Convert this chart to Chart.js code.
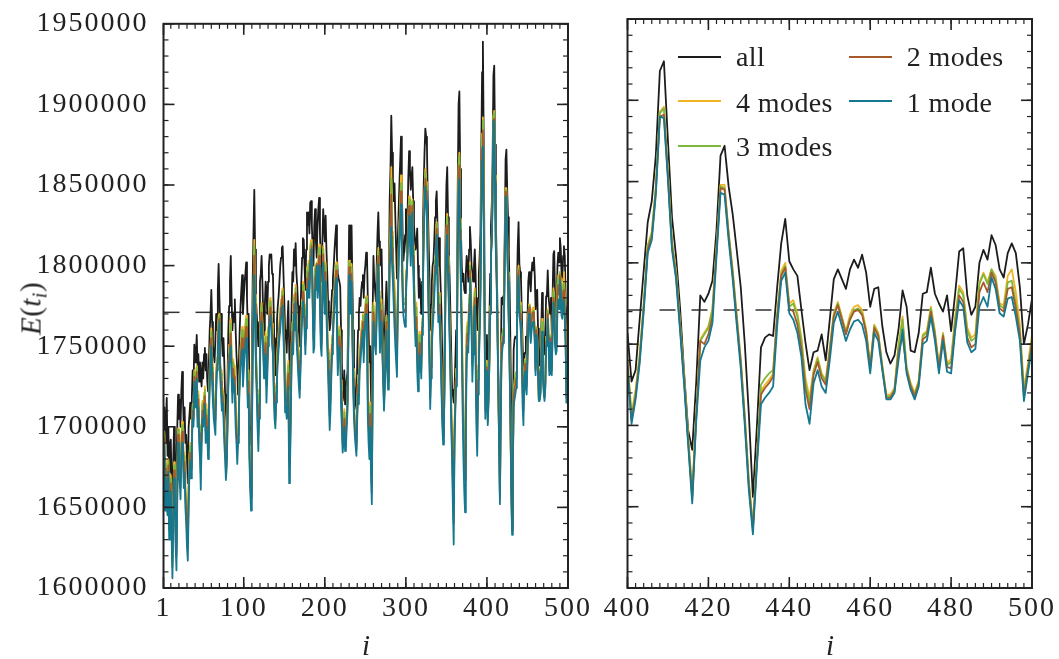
<!DOCTYPE html>
<html><head><meta charset="utf-8">
<script src="https://cdn.jsdelivr.net/npm/chart.js@4.4.1/dist/chart.umd.min.js"></script>
<style>
html,body{margin:0;padding:0;background:#fff;}
#wrap{position:relative;width:1059px;height:659px;overflow:hidden;font-family:'Liberation Serif','Times New Roman',serif;color:#222;}
canvas{position:absolute;left:0;top:0;}
.lg{position:absolute;font-size:28px;line-height:31px;height:31px;white-space:nowrap;letter-spacing:0.4px;}
.sw{position:absolute;width:43px;height:0;border-top:2px solid;}
.xt{position:absolute;font-size:29px;font-style:italic;width:60px;text-align:center;line-height:34px;}
#yt{position:absolute;left:-65px;top:287px;font-size:29px;width:200px;text-align:center;line-height:34px;transform:rotate(-90deg);white-space:nowrap;letter-spacing:0.5px;}
</style></head><body>
<div id="wrap">
<canvas id="cLeft" width="1059" height="659"></canvas>
<canvas id="cRight" width="1059" height="659"></canvas>
<div id="yt"><i>E</i>(<i>t</i><sub style="font-size:20px;vertical-align:-6px;"><i>i</i></sub>)</div>
<div class="xt" style="left:336px;top:628px;">i</div>
<div class="xt" style="left:800px;top:628px;">i</div>
<div id="legend"></div>
</div>
<script>
// ---------------- data (energy, in thousands) ----------------
const firstIndex = 1;
const energyAll = [
1700,1712,1690,1705,1718,1682,1700,1672,1688,1692,1665,1650,1678,1700,1690,1660,1668,1700,1720,1705,
1717,1700,1722,1734,1718,1700,1712,1690,1695,1680,1665,1700,1707,1715,1705,1719,1735,1725,1751,1740,
1745,1757,1738,1745,1728,1740,1732,1725,1740,1730,1745,1749,1735,1745,1728,1722,1740,1760,1770,1785,
1765,1750,1745,1740,1755,1770,1760,1785,1801,1780,1760,1770,1755,1744,1755,1740,1720,1710,1699,1730,
1760,1775,1790,1806,1780,1760,1770,1765,1779,1760,1745,1735,1720,1740,1760,1775,1785,1794,1770,1780,
1790,1795,1802,1780,1760,1770,1720,1689,1700,1740,1790,1820,1847,1810,1780,1770,1760,1750,1765,1790,
1795,1806,1790,1770,1757,1775,1790,1785,1770,1790,1800,1807,1805,1807,1795,1794,1770,1745,1732,1755,
1766,1775,1781,1790,1800,1805,1811,1812,1795,1778,1760,1755,1746,1765,1778,1750,1723,1750,1775,1796,
1790,1810,1800,1814,1795,1787,1775,1760,1750,1770,1790,1805,1817,1816,1800,1785,1810,1833,1825,1833,
1820,1839,1840,1825,1810,1800,1825,1835,1815,1805,1825,1835,1842,1820,1800,1790,1815,1835,1825,1815,
1831,1810,1795,1778,1770,1760,1764,1775,1785,1792,1800,1810,1818,1825,1805,1795,1792,1790,1787,1760,
1740,1716,1720,1735,1714,1725,1730,1734,1780,1825,1810,1800,1825,1790,1760,1739,1725,1715,1711,1740,
1760,1770,1780,1775,1785,1790,1794,1780,1795,1800,1808,1807,1780,1760,1740,1750,1720,1700,1770,1806,
1790,1785,1778,1800,1820,1833,1815,1800,1805,1810,1780,1755,1739,1760,1775,1790,1775,1757,1790,1840,
1860,1893,1870,1854,1840,1851,1830,1810,1792,1815,1833,1850,1865,1880,1850,1820,1803,1810,1819,1835,
1808,1830,1855,1871,1860,1847,1855,1861,1840,1825,1817,1810,1815,1823,1800,1780,1792,1785,1770,1790,
1820,1850,1870,1885,1880,1874,1840,1817,1795,1760,1776,1790,1800,1803,1815,1830,1840,1846,1825,1800,
1817,1800,1785,1769,1740,1720,1711,1760,1820,1850,1861,1830,1810,1792,1770,1745,1723,1720,1715,1724,
1740,1760,1787,1850,1900,1908,1860,1820,1799,1790,1795,1785,1783,1795,1806,1800,1790,1810,1824,1815,
1800,1796,1790,1800,1810,1795,1770,1760,1780,1795,1806,1820,1870,1920,1939,1880,1800,1739,1745,
1757,1727,1734,1765,1795,1825,1838,1866,1918,1924,1875,1828,1804,1772,1732,1697,1685,1727,1780,1776,1781,1789,1820,1866,1872,1847,
1830,1808,1785,1750,1707,1656,1700,1748,1754,1756,1755,1785,1812,1827,1801,1796,1792,1771,1751,1734,1745,1746,1756,1740,1765,
1790,1796,1790,1784,1796,1802,1797,1805,1794,1773,1784,1785,1761,1745,1738,1743,1759,1783,1773,1746,1745,1757,1781,1782,1797,
1781,1775,1770,1780,1758,1781,1807,1809,1780,1768,1773,1800,1808,1802,1817,1811,1796,1791,1806,1812,1806,1785,1750,1762,1778];
const energy4 = [
1686,1697,1661,1679,1670,1656,1680,1643,1665,1670,1642,1619,1651,1678,1670,1636,1628,1669,1699,1679,
1681,1669,1693,1703,1698,1673,1684,1662,1657,1642,1631,1665,1683,1690,1679,1699,1714,1708,1735,1720,
1726,1738,1711,1722,1701,1698,1682,1701,1716,1709,1721,1725,1704,1714,1705,1693,1716,1736,1749,1761,
1739,1726,1717,1712,1713,1735,1743,1761,1769,1770,1739,1735,1724,1724,1720,1705,1692,1680,1682,1709,
1736,1751,1759,1767,1745,1729,1742,1737,1738,1718,1707,1694,1699,1719,1736,1749,1755,1762,1739,1749,
1759,1764,1769,1749,1726,1735,1692,1669,1664,1705,1755,1785,1816,1782,1749,1735,1718,1705,1723,1755,
1771,1777,1766,1755,1738,1751,1759,1736,1742,1762,1772,1778,1780,1774,1764,1760,1735,1717,1709,1727,
1741,1751,1758,1766,1772,1779,1784,1786,1767,1751,1724,1725,1717,1734,1741,1691,1687,1719,1751,1765,
1759,1782,1772,1788,1767,1758,1747,1736,1728,1746,1766,1779,1790,1787,1772,1757,1776,1799,1794,1803,
1792,1812,1816,1815,1786,1762,1772,1800,1798,1802,1794,1804,1813,1789,1765,1758,1787,1812,1797,1784,
1802,1782,1764,1748,1732,1717,1726,1744,1757,1766,1776,1786,1795,1802,1774,1751,1759,1762,1758,1729,
1712,1694,1699,1711,1694,1698,1709,1717,1759,1803,1786,1779,1801,1766,1736,1715,1704,1696,1691,1716,
1732,1731,1749,1751,1759,1766,1770,1752,1767,1776,1781,1778,1729,1711,1698,1715,1685,1666,1735,1777,
1766,1761,1755,1779,1799,1811,1784,1762,1774,1779,1756,1736,1719,1734,1754,1769,1747,1733,1769,1812,
1822,1861,1821,1809,1795,1789,1774,1761,1749,1784,1810,1826,1837,1856,1819,1792,1779,1779,1779,1797,
1797,1813,1831,1843,1829,1814,1827,1841,1812,1794,1779,1768,1777,1761,1745,1749,1759,1754,1742,1767,
1796,1826,1846,1860,1852,1843,1812,1783,1757,1726,1744,1762,1772,1779,1791,1806,1819,1827,1801,1776,
1783,1772,1757,1735,1712,1698,1703,1746,1799,1822,1832,1806,1786,1765,1742,1714,1693,1671,1653,1700,
1719,1736,1758,1822,1862,1870,1829,1792,1765,1734,1715,1698,1688,1729,1760,1765,1759,1782,1802,1791,
1772,1748,1759,1776,1786,1757,1721,1705,1738,1757,1770,1792,1842,1882,1892,1845,1779,1715,1724,
1741,1707,1722,1744,1775,1811,1819,1847,1893,1896,1856,1813,1795,1763,1730,1693,1660,1708,1753,1757,1761,1772,1810,1848,1848,1819,
1796,1768,1741,1706,1666,1639,1681,1721,1725,1728,1732,1768,1795,1800,1775,1777,1769,1754,1729,1717,1734,1742,1732,1728,1748,
1769,1776,1767,1758,1768,1773,1774,1771,1759,1737,1762,1757,1737,1719,1719,1723,1750,1767,1736,1726,1720,1728,1756,1758,1773,
1758,1737,1757,1738,1741,1767,1786,1782,1760,1754,1756,1788,1794,1788,1796,1792,1775,1774,1792,1796,1782,1762,1723,1738,1756];
const energy3 = [
1685,1696,1659,1677,1667,1654,1679,1641,1663,1668,1640,1617,1650,1676,1669,1634,1625,1666,1698,1677,
1679,1666,1691,1701,1696,1672,1682,1660,1654,1639,1629,1663,1681,1688,1677,1697,1713,1706,1734,1719,
1725,1737,1710,1720,1700,1695,1679,1699,1714,1708,1719,1723,1701,1711,1703,1691,1714,1734,1748,1759,
1737,1724,1715,1710,1710,1733,1741,1759,1767,1769,1738,1733,1721,1722,1718,1703,1690,1678,1681,1708,
1734,1749,1756,1764,1743,1726,1740,1735,1735,1715,1704,1692,1698,1718,1734,1747,1753,1760,1736,1746,
1756,1761,1767,1746,1724,1733,1690,1667,1661,1703,1753,1783,1812,1780,1746,1733,1715,1701,1720,1753,
1769,1775,1764,1754,1737,1749,1756,1733,1740,1760,1770,1776,1778,1772,1761,1757,1733,1715,1707,1725,
1739,1749,1756,1764,1770,1777,1782,1784,1765,1750,1722,1723,1715,1731,1738,1686,1685,1716,1749,1763,
1756,1780,1770,1786,1765,1756,1745,1734,1726,1744,1764,1777,1788,1785,1770,1755,1773,1797,1791,1801,
1790,1810,1814,1814,1784,1760,1768,1798,1796,1801,1791,1801,1811,1786,1763,1756,1785,1810,1795,1781,
1800,1780,1761,1746,1729,1714,1724,1741,1755,1764,1774,1784,1793,1800,1771,1748,1757,1760,1756,1726,
1710,1692,1698,1709,1692,1696,1708,1716,1758,1802,1784,1778,1799,1764,1734,1714,1703,1695,1689,1714,
1730,1728,1746,1749,1757,1764,1769,1750,1765,1774,1780,1776,1725,1708,1695,1713,1683,1664,1733,1775,
1764,1759,1753,1778,1798,1809,1781,1760,1771,1776,1754,1735,1717,1732,1753,1768,1745,1732,1768,1810,
1819,1854,1818,1806,1791,1784,1770,1758,1746,1781,1808,1824,1835,1851,1816,1790,1778,1776,1776,1794,
1796,1811,1829,1841,1826,1812,1825,1840,1810,1791,1776,1765,1774,1757,1742,1746,1757,1751,1740,1765,
1794,1824,1844,1858,1850,1841,1810,1781,1754,1723,1742,1760,1770,1778,1789,1804,1818,1826,1799,1774,
1781,1770,1755,1732,1710,1697,1703,1745,1798,1820,1830,1804,1784,1763,1740,1711,1691,1668,1649,1699,
1718,1734,1756,1820,1859,1868,1826,1790,1763,1730,1709,1691,1681,1724,1757,1763,1757,1780,1800,1789,
1770,1745,1756,1774,1784,1754,1718,1702,1735,1754,1768,1790,1840,1879,1890,1843,1778,1714,1723,
1739,1705,1720,1742,1774,1810,1818,1846,1892,1895,1855,1812,1794,1762,1729,1692,1657,1707,1752,1756,1760,1771,1808,1847,1846,1818,
1795,1767,1740,1705,1665,1638,1680,1725,1729,1732,1734,1768,1793,1798,1773,1775,1767,1752,1726,1714,1733,1741,1731,1727,1747,
1768,1775,1766,1757,1766,1771,1772,1769,1758,1736,1761,1756,1736,1718,1718,1722,1748,1765,1735,1725,1719,1727,1755,1757,1772,
1757,1736,1756,1737,1739,1765,1784,1780,1758,1752,1754,1787,1793,1787,1796,1790,1774,1772,1788,1789,1775,1758,1720,1736,1753];
const energy2 = [
1683,1693,1654,1674,1660,1651,1676,1636,1660,1665,1637,1613,1646,1673,1666,1630,1620,1662,1695,1674,
1674,1662,1686,1697,1693,1668,1678,1656,1648,1633,1624,1658,1677,1684,1674,1694,1710,1704,1731,1716,
1722,1734,1706,1717,1696,1689,1672,1695,1710,1705,1715,1719,1697,1707,1700,1686,1710,1730,1745,1755,
1734,1720,1711,1706,1704,1728,1739,1755,1762,1767,1735,1728,1717,1719,1713,1698,1686,1673,1679,1705,
1730,1745,1752,1758,1738,1722,1736,1731,1729,1709,1698,1686,1695,1715,1730,1744,1748,1755,1732,1742,
1752,1757,1762,1742,1719,1728,1686,1664,1656,1698,1748,1778,1806,1776,1742,1728,1709,1695,1714,1748,
1765,1771,1760,1751,1734,1745,1752,1726,1736,1756,1766,1771,1774,1767,1757,1752,1728,1711,1704,1721,
1735,1745,1753,1760,1766,1774,1778,1781,1761,1746,1717,1718,1711,1727,1733,1678,1680,1712,1745,1759,
1752,1776,1766,1783,1761,1751,1741,1730,1723,1740,1760,1774,1784,1781,1766,1751,1768,1792,1787,1796,
1786,1806,1810,1812,1780,1754,1760,1793,1794,1801,1787,1797,1806,1782,1758,1751,1781,1807,1791,1777,
1796,1776,1757,1741,1723,1707,1718,1737,1751,1761,1770,1780,1790,1797,1767,1741,1752,1756,1751,1722,
1706,1689,1695,1705,1689,1692,1705,1714,1755,1799,1780,1775,1795,1760,1730,1710,1700,1692,1686,1710,
1726,1722,1742,1745,1754,1760,1765,1746,1761,1770,1776,1771,1718,1701,1689,1708,1678,1659,1728,1771,
1760,1755,1750,1775,1795,1806,1777,1754,1767,1772,1750,1732,1714,1729,1750,1765,1741,1728,1765,1806,
1813,1844,1811,1800,1785,1775,1762,1751,1740,1777,1805,1820,1831,1846,1812,1786,1774,1772,1771,1788,
1794,1809,1825,1837,1822,1807,1821,1837,1806,1787,1770,1759,1768,1748,1734,1742,1752,1747,1736,1762,
1790,1820,1840,1854,1846,1837,1806,1776,1748,1718,1737,1756,1766,1774,1785,1800,1815,1823,1795,1770,
1776,1766,1751,1727,1706,1694,1702,1743,1795,1816,1825,1800,1780,1759,1736,1707,1686,1661,1640,1695,
1715,1730,1752,1816,1853,1862,1822,1786,1758,1722,1697,1679,1667,1714,1750,1758,1753,1776,1797,1785,
1766,1738,1752,1770,1780,1748,1711,1694,1729,1748,1763,1786,1836,1873,1884,1838,1775,1710,1720,
1737,1703,1718,1740,1772,1808,1816,1844,1890,1891,1853,1810,1792,1760,1727,1690,1655,1705,1752,1750,1756,1767,1807,1846,1845,1817,
1793,1765,1738,1703,1663,1636,1678,1719,1723,1726,1730,1766,1792,1797,1772,1770,1762,1747,1722,1710,1731,1739,1729,1725,1745,
1767,1774,1765,1756,1765,1770,1771,1768,1757,1735,1760,1755,1735,1717,1717,1721,1745,1755,1734,1724,1718,1726,1753,1755,1770,
1755,1735,1755,1736,1735,1761,1780,1776,1754,1748,1750,1782,1788,1782,1794,1788,1772,1770,1784,1785,1772,1756,1718,1734,1751];
const energy1 = [
1680,1690,1648,1668,1650,1645,1672,1630,1655,1660,1632,1606,1640,1668,1662,1625,1611,1655,1690,1668,
1666,1655,1680,1690,1689,1662,1672,1650,1640,1625,1617,1650,1672,1679,1668,1690,1705,1700,1728,1712,
1718,1730,1700,1712,1690,1680,1661,1690,1705,1700,1710,1714,1690,1700,1695,1680,1705,1725,1740,1750,
1728,1715,1705,1700,1695,1720,1735,1750,1755,1765,1730,1720,1710,1715,1705,1690,1680,1667,1675,1700,
1725,1740,1745,1750,1730,1715,1730,1725,1720,1700,1690,1677,1690,1710,1725,1738,1742,1748,1725,1735,
1745,1750,1755,1735,1712,1720,1680,1660,1648,1690,1740,1770,1794,1770,1735,1720,1700,1685,1705,1740,
1760,1765,1755,1748,1730,1740,1745,1715,1730,1750,1760,1765,1769,1760,1750,1745,1720,1705,1699,1715,
1730,1740,1748,1755,1760,1768,1772,1775,1755,1740,1709,1712,1705,1720,1725,1665,1672,1705,1740,1752,
1745,1770,1760,1777,1755,1745,1735,1725,1718,1735,1755,1768,1778,1775,1760,1745,1761,1785,1780,1790,
1780,1800,1805,1810,1775,1746,1749,1785,1790,1800,1780,1790,1800,1775,1750,1744,1775,1802,1785,1770,
1790,1770,1750,1735,1715,1698,1710,1730,1745,1755,1765,1775,1785,1792,1760,1732,1745,1750,1745,1715,
1700,1684,1690,1700,1685,1686,1700,1710,1750,1794,1775,1770,1790,1755,1725,1705,1695,1688,1682,1705,
1720,1714,1735,1740,1748,1755,1760,1740,1755,1765,1770,1765,1707,1690,1680,1700,1670,1652,1720,1765,
1755,1750,1745,1770,1790,1801,1770,1746,1760,1765,1745,1728,1710,1723,1745,1760,1735,1723,1760,1800,
1805,1824,1800,1790,1775,1762,1750,1740,1731,1770,1800,1815,1825,1838,1805,1780,1769,1765,1762,1780,
1792,1805,1820,1831,1815,1800,1815,1833,1800,1780,1762,1750,1760,1735,1722,1735,1745,1740,1730,1757,
1785,1815,1835,1849,1840,1830,1800,1769,1740,1711,1730,1750,1760,1769,1780,1795,1810,1819,1790,1765,
1769,1760,1745,1720,1700,1689,1700,1740,1790,1810,1819,1795,1775,1753,1730,1700,1680,1650,1627,1690,
1710,1725,1746,1810,1845,1854,1815,1780,1751,1710,1680,1660,1647,1700,1740,1750,1746,1770,1792,1780,
1760,1728,1745,1765,1775,1740,1700,1682,1720,1740,1755,1780,1830,1865,1874,1830,1770,1705,1715,
1735,1701,1716,1738,1770,1806,1814,1842,1890,1889,1851,1808,1790,1758,1725,1688,1652,1703,1740,1748,1752,1763,1804,1843,1842,1814,
1790,1762,1735,1700,1660,1633,1675,1713,1717,1720,1724,1761,1789,1794,1769,1765,1757,1742,1713,1701,1726,1734,1724,1720,1740,
1763,1770,1761,1752,1759,1764,1765,1762,1752,1732,1757,1752,1734,1716,1716,1720,1740,1759,1732,1722,1716,1724,1750,1752,1767,
1752,1732,1752,1733,1732,1758,1777,1773,1751,1745,1747,1773,1779,1773,1791,1784,1769,1767,1778,1779,1767,1752,1715,1732,1748];
const referenceLevel = 1771;
const seriesNames = ['all', '4 modes', '3 modes', '2 modes', '1 mode'];
const seriesColors = ['#1c1c1c', '#f0b323', '#7db83a', '#a65a2c', '#15788f'];
const yTickValues = [1600, 1650, 1700, 1750, 1800, 1850, 1900, 1950];
const yTickLabels = ['1600000', '1650000', '1700000', '1750000', '1800000', '1850000', '1900000', '1950000'];
const xTickValuesLeft = [1, 100, 200, 300, 400, 500];
const xTickLabelsLeft = ['1', '100', '200', '300', '400', '500'];
const xTickValuesRight = [400, 420, 440, 460, 480, 500];
const xTickLabelsRight = ['400', '420', '440', '460', '480', '500'];

// ---------------- helpers ----------------
const seriesValues = [energyAll, energy4, energy3, energy2, energy1];
const toPoints = arr => arr.map((v, k) => ({ x: firstIndex + k, y: v }));
function range(a, b, step) { const r = []; for (let v = a; v <= b + 1e-9; v += step) r.push(v); return r; }

const axesFrame = {
  id: 'axesFrame',
  beforeLayout(chart) { chart.ctx.letterSpacing = '2px'; },
  beforeDraw(chart) { chart.ctx.letterSpacing = '2px'; },
  afterDatasetsDraw(chart, args, o) {
    const { ctx, chartArea: a, scales: { x, y } } = chart;
    ctx.save();
    ctx.strokeStyle = '#222';
    ctx.lineCap = 'butt';
    const seg = (x1, y1, x2, y2) => { ctx.beginPath(); ctx.moveTo(x1, y1); ctx.lineTo(x2, y2); ctx.stroke(); };
    const drawX = (vals, len, lw) => {
      ctx.lineWidth = lw;
      vals.forEach(v => { if (v < x.min || v > x.max) return; const p = x.getPixelForValue(v); seg(p, a.bottom, p, a.bottom - len); seg(p, a.top, p, a.top + len); });
    };
    const drawY = (vals, len, lw) => {
      ctx.lineWidth = lw;
      vals.forEach(v => { if (v < y.min || v > y.max) return; const p = y.getPixelForValue(v); seg(a.left, p, a.left + len, p); seg(a.right, p, a.right - len, p); });
    };
    drawX(o.xMinor, 5, 1.2); drawX(o.xMajor, 11, 1.6);
    drawY(o.yMinor, 5, 1.2); drawY(o.yMajor, 11, 1.6);
    ctx.lineWidth = 2;
    ctx.strokeRect(a.left, a.top, a.right - a.left, a.bottom - a.top);
    ctx.restore();
  }
};

const tickFont = { family: "'Liberation Serif', 'Times New Roman', serif", size: 28 };

function buildDatasets(xmin, xmax, sliceFrom) {
  const ds = [{
    label: 'ref', data: [{ x: xmin, y: referenceLevel }, { x: xmax, y: referenceLevel }],
    borderColor: '#333', borderWidth: 1.5, borderDash: [16, 16], order: 10
  }];
  seriesValues.forEach((vals, k) => {
    ds.push({
      label: seriesNames[k], data: toPoints(vals).slice(sliceFrom),
      borderColor: seriesColors[k], borderWidth: 1.8, order: 5 - k,
      borderJoinStyle: 'round'
    });
  });
  return ds;
}

function makeChart(id, opt) {
  return new Chart(document.getElementById(id), {
    type: 'line',
    data: { datasets: buildDatasets(opt.xmin, opt.xmax, opt.sliceFrom) },
    options: {
      responsive: false, animation: false, devicePixelRatio: 1,
      parsing: false, normalized: true,
      layout: { padding: opt.padding },
      elements: { point: { radius: 0 }, line: { tension: 0 } },
      plugins: {
        legend: { display: false }, tooltip: { enabled: false },
        axesFrame: { xMajor: opt.xMajor, xMinor: opt.xMinor, yMajor: yTickValues, yMinor: range(1600, 1950, 10) }
      },
      scales: {
        x: {
          type: 'linear', min: opt.xmin, max: opt.xmax,
          grid: { display: false }, border: { display: false },
          afterBuildTicks: s => { s.ticks = opt.xMajor.map(v => ({ value: v })); },
          afterFit: s => { s.height = 40; },
          ticks: {
            autoSkip: false, maxRotation: 0, padding: -4, color: '#222', font: tickFont,
            callback: v => opt.xLabels[opt.xMajor.indexOf(v)]
          }
        },
        y: {
          type: 'linear', min: 1600, max: 1950, display: opt.showY,
          grid: { display: false }, border: { display: false },
          afterBuildTicks: s => { s.ticks = yTickValues.map(v => ({ value: v })); },
          afterFit: s => { s.width = opt.showY ? 163.5 : 0; },
          ticks: {
            autoSkip: false, padding: 7, color: '#222', font: tickFont,
            callback: v => yTickLabels[yTickValues.indexOf(v)]
          }
        }
      }
    },
    plugins: [axesFrame]
  });
}

makeChart('cLeft', {
  xmin: 1, xmax: 500, sliceFrom: 0, showY: true,
  padding: { left: 0, top: 19, right: 1059 - 568, bottom: 659 - 588 - 40 },
  xMajor: xTickValuesLeft, xLabels: xTickLabelsLeft, xMinor: range(10, 490, 10)
});
makeChart('cRight', {
  xmin: 400, xmax: 500, sliceFrom: 399, showY: false,
  padding: { left: 627.5, top: 19, right: 1059 - 1032, bottom: 659 - 588 - 40 },
  xMajor: xTickValuesRight, xLabels: xTickLabelsRight, xMinor: range(400, 500, 2)
});

// ---------------- legend (HTML) ----------------
const legendSlots = [
  { k: 0, sw: 678, tx: 736, cy: 56.7, top: 41 },
  { k: 1, sw: 678, tx: 736, cy: 101, top: 86.8 },
  { k: 2, sw: 678, tx: 736, cy: 145.7, top: 131 },
  { k: 3, sw: 849, tx: 906.7, cy: 56.7, top: 41 },
  { k: 4, sw: 849, tx: 906.7, cy: 101, top: 86.8 }
];
const lg = document.getElementById('legend');
legendSlots.forEach(s => {
  const sw = document.createElement('div');
  sw.className = 'sw';
  sw.style.left = s.sw + 'px'; sw.style.top = (s.cy - 1) + 'px';
  sw.style.borderTopColor = seriesColors[s.k];
  lg.appendChild(sw);
  const t = document.createElement('div');
  t.className = 'lg';
  t.style.left = s.tx + 'px'; t.style.top = s.top + 'px';
  t.textContent = seriesNames[s.k];
  lg.appendChild(t);
});
</script>
</body></html>
